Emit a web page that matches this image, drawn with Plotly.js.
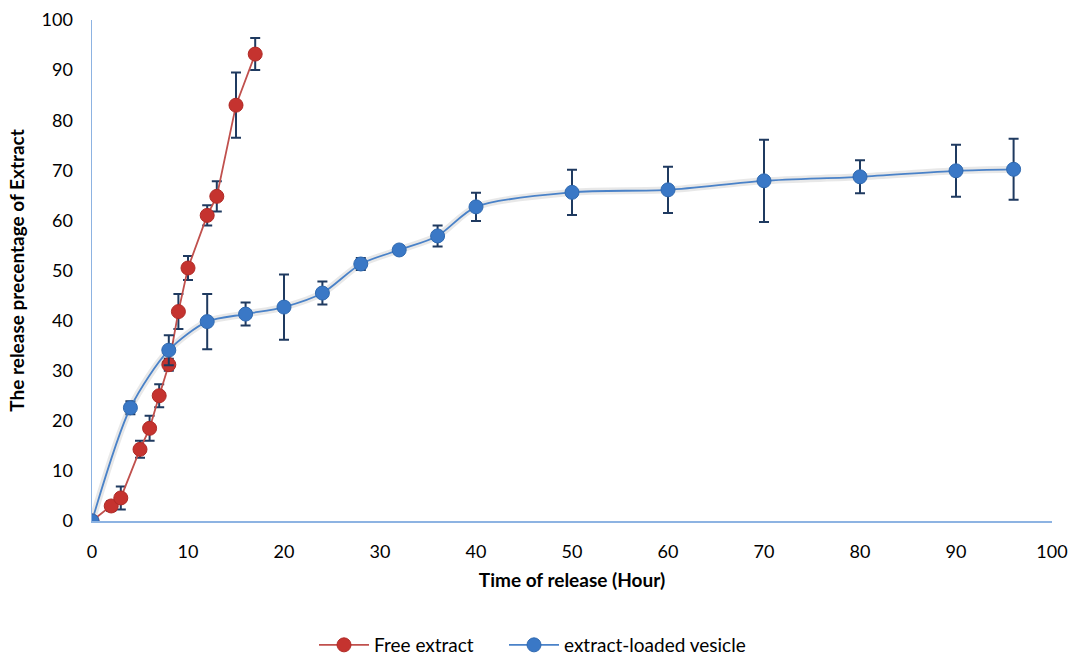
<!DOCTYPE html>
<html>
<head>
<meta charset="utf-8">
<script src="https://cdn.plot.ly/plotly-3.0.1.min.js"></script>
<style>html,body{margin:0;padding:0;background:#fff;}#chart{width:1072px;height:656px;}</style>
</head>
<body>
<div id="chart"></div>
<script>
// Free extract
const freeTime = [0, 2, 3, 5, 6, 7, 8, 9, 10, 12, 13, 15, 17];
const freeRelease = [0, 3.0, 4.6, 14.3, 18.5, 25.0, 31.2, 41.8, 50.5, 61.0, 64.8, 83.0, 93.2];
const freeError = [0, 1.0, 2.3, 1.7, 2.5, 2.3, 1.2, 3.5, 2.4, 2.0, 3.0, 6.5, 3.2];

// extract-loaded vesicle
const vesTime = [0, 4, 8, 12, 16, 20, 24, 28, 32, 36, 40, 50, 60, 70, 80, 90, 96];
const vesRelease = [0, 22.6, 34.1, 39.8, 41.3, 42.7, 45.5, 51.3, 54.1, 56.9, 62.7, 65.6, 66.1, 67.9, 68.7, 69.9, 70.2];
const vesError = [0, 1.3, 3.0, 5.5, 2.3, 6.5, 2.3, 1.2, 0.8, 2.1, 2.8, 4.5, 4.6, 8.2, 3.3, 5.2, 6.1];

const tickValues = [0, 10, 20, 30, 40, 50, 60, 70, 80, 90, 100];

const errColor = '#1f3a60';
const fontFam = 'Lato, "Open Sans", sans-serif';

const traces = [
  {
    x: freeTime, y: freeRelease, type: 'scatter', mode: 'lines+markers',
    name: 'Free extract', legend: 'legend',
    line: {color: '#c0504d', width: 1.8},
    marker: {color: '#c5332f', size: 14, line: {color: '#b02a26', width: 1}},
    error_y: {type: 'data', array: freeError, visible: true, color: errColor, thickness: 2, width: 5}
  },
  {
    x: vesTime, y: vesRelease, type: 'scatter', mode: 'lines',
    showlegend: false, hoverinfo: 'skip',
    line: {color: 'rgba(0,0,0,0.09)', width: 7, shape: 'spline', smoothing: 0.8}
  },
  {
    x: vesTime, y: vesRelease, type: 'scatter', mode: 'lines+markers',
    name: 'extract-loaded vesicle', legend: 'legend2',
    line: {color: '#4a82c8', width: 1.8, shape: 'spline', smoothing: 0.8},
    marker: {color: '#3a78c6', size: 14, line: {color: '#2f69b0', width: 1}},
    error_y: {type: 'data', array: vesError, visible: true, color: errColor, thickness: 2, width: 5}
  }
];

const legendCommon = {
  orientation: 'h', xref: 'container', yref: 'container', yanchor: 'middle', xanchor: 'left',
  y: 0.0, font: {family: fontFam, size: 19, color: '#000'}, itemwidth: 50,
  bgcolor: 'rgba(0,0,0,0)', borderwidth: 0
};

const layout = {
  width: 1072, height: 656,
  margin: {l: 92, r: 20, t: 20, b: 135},
  paper_bgcolor: '#ffffff', plot_bgcolor: '#ffffff',
  font: {family: fontFam, color: '#000', size: 16},
  showlegend: true,
  legend: Object.assign({}, legendCommon, {x: 314 / 1072, y: 11 / 656}),
  legend2: Object.assign({}, legendCommon, {x: 504 / 1072, y: 11 / 656}),
  xaxis: {
    range: [0, 100], tickvals: tickValues, automargin: false,
    showgrid: false, zeroline: false, showline: true, linecolor: '#8db3e2', linewidth: 1.5,
    ticks: 'outside', ticklen: 14, tickcolor: 'rgba(0,0,0,0)',
    tickfont: {family: fontFam, size: 18, color: '#000'},
    title: {text: '<b>Time of release (Hour)</b>', font: {family: fontFam, size: 19, color: '#000'}, standoff: 12}
  },
  yaxis: {
    range: [0, 100], tickvals: tickValues, automargin: false,
    showgrid: false, zeroline: false, showline: true, linecolor: '#8db3e2', linewidth: 1.5,
    ticks: 'outside', ticklen: 14, tickcolor: 'rgba(0,0,0,0)',
    tickfont: {family: fontFam, size: 18, color: '#000'},
    title: {text: '<b>The release precentage of Extract</b>', font: {family: fontFam, size: 19, color: '#000'}, standoff: 12}
  }
};

Plotly.newPlot('chart', traces, layout, {displayModeBar: false, staticPlot: true});
</script>
</body>
</html>
